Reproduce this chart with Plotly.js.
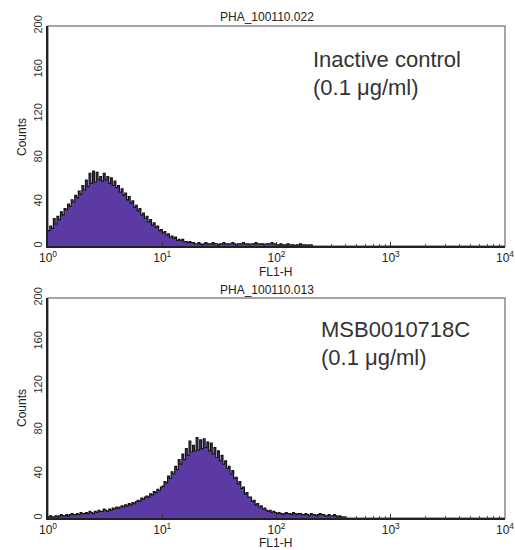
<!DOCTYPE html>
<html>
<head>
<meta charset="utf-8">
<script src="https://cdn.plot.ly/plotly-3.0.1.min.js"></script>
<style>html,body{margin:0;padding:0;background:#fff;}#chart{width:515px;height:550px;}</style>
</head>
<body>
<div id="chart"></div>
<script>
// ---- data ----
const channelsPerDecade = 64;
const panelTitles = ["PHA_100110.022", "PHA_100110.013"];
const panelLabels = [["Inactive control", "(0.1 \u03bcg/ml)"], ["MSB0010718C", "(0.1 \u03bcg/ml)"]];
const xTickVals = [1, 10, 100, 1000, 10000];
const xTickText = ["10<sup>0</sup>", "10<sup>1</sup>", "10<sup>2</sup>", "10<sup>3</sup>", "10<sup>4</sup>"];
const yTickVals = [0, 40, 80, 120, 160, 200];
const xAxisTitle = "FL1-H";
const yAxisTitle = "Counts";

// counts per channel (channel i sits at FL1 = 10^(i/64))
const topCounts = [
  14,18,16,25,20,27,24,31,28,34,33,38,36,42,40,46,44,50,47,55,51,60,54,66,57,68,58,67,60,63,59,66,
  60,63,57,62,55,59,53,55,49,52,46,48,42,45,39,41,35,37,32,34,28,30,25,27,22,24,19,21,17,18,14,15,
  12,13,10,11,8,9,7,8,5,6,5,6,4,4,3,4,3,
  3,2,2,3,2,1,2,3,2,2,2,3,2,2,1,2,2,3,2,2,2,2,3,2,1,2,2,2,3,2,2,2,1,2,2,3,2,2,2,2,1,2,2,2,3,2,2,
  1,1,2,1,1,1,2,1,1,1,0,1,1,2,1,1,1,0,1,1,
  0
];
const bottomCounts = [
  1,2,1,1,2,1,2,3,2,2,3,2,3,4,3,3,4,3,5,4,4,5,4,6,5,4,6,5,7,6,6,8,
  7,6,8,7,9,8,10,9,10,11,10,12,11,13,12,14,13,15,16,15,18,17,19,20,19,22,21,24,23,26,25,28,
  29,33,32,38,36,42,40,47,44,53,49,58,53,63,57,70,60,66,61,73,62,71,63,72,64,69,61,68,58,64,55,61,
  52,57,49,52,45,47,40,43,36,37,31,33,27,28,22,23,19,19,15,16,12,13,10,11,8,9,7,6,7,5,6,5,
  4,5,4,3,4,5,4,4,3,5,4,3,4,
  4,3,3,4,3,2,4,3,3,2,3,4,3,
  3,2,2,3,2,2,3,
  2,1,2,1,1,1,
  0
];

// ---- build ----
function channelValues(n) {
  const xs = [];
  for (let i = 0; i < n; i++) xs.push(Math.pow(10, i / channelsPerDecade));
  return xs;
}
const minorVals = [];
for (let d = 0; d < 4; d++) for (let m = 2; m <= 9; m++) minorVals.push(m * Math.pow(10, d));

const FONT = "Liberation Sans, Arial, sans-serif";
const fill = "#5b3aa3";

function trace(counts, xa, ya) {
  return {
    type: "scatter", mode: "lines",
    x: channelValues(counts.length), y: counts,
    xaxis: xa, yaxis: ya,
    line: {color: "#111", width: 1.2, shape: "hv"},
    fill: "tozeroy", fillcolor: fill,
    hoverinfo: "skip", showlegend: false
  };
}

const W = 515, H = 550;
const px = v => v / W;
const py = v => 1 - v / H;
const xDom = [px(48), px(505)];
const yDomTop = [py(246), py(26)];
const yDomBot = [py(518), py(298)];

function xaxis(anchor) {
  return {
    type: "log", range: [0, 4], domain: xDom, anchor: anchor,
    tickmode: "array", tickvals: xTickVals, ticktext: xTickText,
    ticks: "inside", ticklen: 4, tickcolor: "#333", tickwidth: 1,
    minor: {tickmode: "array", tickvals: minorVals, ticks: "inside", ticklen: 2, tickcolor: "#555", showgrid: false},
    showline: true, linewidth: 2, linecolor: "#222",
    showgrid: false, zeroline: false, fixedrange: true,
    tickfont: {family: FONT, size: 12, color: "#222"}
  };
}
function yaxis(anchor, dom) {
  return {
    range: [0, 200], domain: dom, anchor: anchor,
    tickmode: "array", tickvals: yTickVals, tickangle: -90,
    ticks: "", showline: true, linewidth: 2, linecolor: "#222",
    showgrid: false, zeroline: false, fixedrange: true,
    tickfont: {family: FONT, size: 11, color: "#333"}
  };
}

const annotations = [];
function addPanelText(i, titleY, xTitleY, yTitleY, line1Y, line2Y, textX) {
  annotations.push({xref: "paper", yref: "paper", x: px(267), y: py(titleY), text: panelTitles[i],
    showarrow: false, xanchor: "center", yanchor: "middle", font: {family: FONT, size: 12, color: "#222"}});
  annotations.push({xref: "paper", yref: "paper", x: px(275), y: py(xTitleY), text: xAxisTitle,
    showarrow: false, xanchor: "center", yanchor: "middle", font: {family: FONT, size: 12, color: "#222"}});
  annotations.push({xref: "paper", yref: "paper", x: px(22), y: py(yTitleY), text: yAxisTitle, textangle: -90,
    showarrow: false, xanchor: "center", yanchor: "middle", font: {family: FONT, size: 12, color: "#222"}});
  annotations.push({xref: "paper", yref: "paper", x: px(textX), y: py(line1Y), text: panelLabels[i][0],
    showarrow: false, xanchor: "left", yanchor: "middle", font: {family: FONT, size: 22, color: "#333"}});
  annotations.push({xref: "paper", yref: "paper", x: px(textX), y: py(line2Y), text: panelLabels[i][1],
    showarrow: false, xanchor: "left", yanchor: "middle", font: {family: FONT, size: 22, color: "#333"}});
}
addPanelText(0, 17, 272, 137, 59, 87, 311);
addPanelText(1, 290, 543, 408, 329, 357, 319);

const frame = (xr, yr) => ({type: "rect", xref: xr + " domain", yref: yr + " domain", x0: 0, x1: 1, y0: 0, y1: 1,
  line: {color: "#888", width: 1.5}, layer: "below"});

const layout = {
  width: W, height: H,
  margin: {l: 0, r: 0, t: 0, b: 0},
  paper_bgcolor: "#fff", plot_bgcolor: "#fff",
  xaxis: xaxis("y"), yaxis: yaxis("x", yDomTop),
  xaxis2: xaxis("y2"), yaxis2: yaxis("x2", yDomBot),
  shapes: [frame("x", "y"), frame("x2", "y2")],
  annotations: annotations,
  showlegend: false
};

Plotly.newPlot("chart", [trace(topCounts, "x", "y"), trace(bottomCounts, "x2", "y2")], layout,
  {displayModeBar: false, staticPlot: true});
</script>
</body>
</html>
